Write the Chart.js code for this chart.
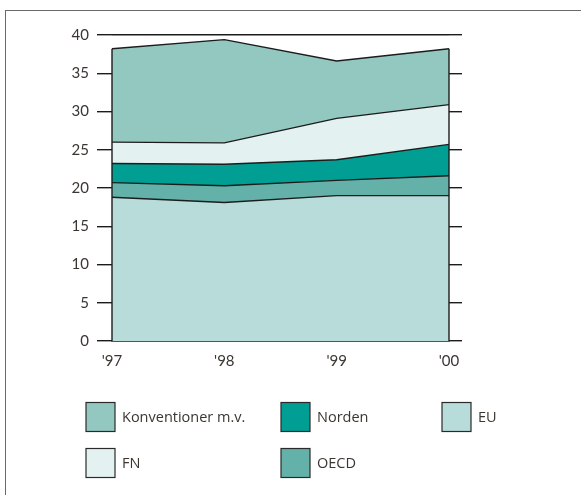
<!DOCTYPE html>
<html>
<head>
<meta charset="utf-8">
<script src="https://cdn.jsdelivr.net/npm/chart.js@4"></script>
<style>
  html, body { margin: 0; padding: 0; background: #fff; }
  #wrap { position: relative; width: 581px; height: 495px; overflow: hidden; }
  #frame { position: absolute; left: 5px; top: 10px; width: 700px; height: 700px;
           border-left: 1.5px solid #6b6a66; border-top: 1.5px solid #6b6a66; }
  canvas { position: absolute; left: 0; top: 0; }
</style>
</head>
<body>
<div id="wrap">
  <div id="frame"></div>
  <canvas id="chart" width="581" height="495"></canvas>
</div>
<script>
// data (stacked from the bottom up)
const years = ["'97", "'98", "'99", "'00"];
const eu = [18.8, 18.1, 19.0, 19.0];
const oecd = [1.9, 2.2, 2.0, 2.6];
const norden = [2.5, 2.8, 2.7, 4.1];
const fn = [2.8, 2.8, 5.4, 5.2];
const konventioner = [12.2, 13.5, 7.5, 7.3];
const yTicks = [0, 5, 10, 15, 20, 25, 30, 35, 40];

// legend reading order (3 columns)
const legendOrder = ['Konventioner m.v.', 'Norden', 'EU', 'FN', 'OECD'];

const ink = '#1c1c1c';
const textColor = '#3b3631';

function layer(label, data, color, fill) {
    return {
        label: label,
        data: data,
        backgroundColor: color,
        borderColor: ink,
        borderWidth: 1.4,
        pointRadius: 0,
        tension: 0,
        fill: fill
    };
}

// vertical edges of the stacked block + the legend
const extras = {
    id: 'extras',
    afterDatasetsDraw(chart) {
        const ctx = chart.ctx;
        const y = chart.scales.y;
        const topMeta = chart.getDatasetMeta(chart.data.datasets.length - 1);
        ctx.save();
        ctx.strokeStyle = ink;
        ctx.lineWidth = 1.4;
        [0, years.length - 1].forEach(i => {
            const p = topMeta.data[i];
            ctx.beginPath();
            ctx.moveTo(p.x, y.getPixelForValue(0));
            ctx.lineTo(p.x, p.y);
            ctx.stroke();
        });
        ctx.restore();
    },
    afterDraw(chart) {
        const ctx = chart.ctx;
        const cols = [86, 281, 442];
        const rows = [417, 463];
        const box = 29;
        ctx.save();
        ctx.font = '14.5px "Open Sans"';
        ctx.textBaseline = 'middle';
        legendOrder.forEach((name, k) => {
            const ds = chart.data.datasets.find(d => d.label === name);
            const x = cols[k % 3];
            const cy = rows[Math.floor(k / 3)];
            ctx.fillStyle = ds.backgroundColor;
            ctx.fillRect(x, cy - box / 2, box, box);
            ctx.strokeStyle = '#2a2a2a';
            ctx.lineWidth = 1.2;
            ctx.strokeRect(x, cy - box / 2, box, box);
            ctx.fillStyle = textColor;
            ctx.fillText(name, x + box + 7, cy + 1);
        });
        ctx.restore();
    }
};

new Chart(document.getElementById('chart').getContext('2d'), {
    type: 'line',
    data: {
        labels: years,
        datasets: [
            layer('EU', eu, '#b7dcd9', 'origin'),
            layer('OECD', oecd, '#63b1a9', '-1'),
            layer('Norden', norden, '#009e93', '-1'),
            layer('FN', fn, '#e3f1f0', '-1'),
            layer('Konventioner m.v.', konventioner, '#93c8c0', '-1')
        ]
    },
    options: {
        responsive: false,
        animation: false,
        layout: { padding: { left: 0, right: 119, top: 35, bottom: 124 } },
        plugins: {
            legend: { display: false },
            tooltip: { enabled: false }
        },
        scales: {
            x: {
                z: 1,
                offset: false,
                grid: { display: false },
                border: { display: true, color: ink, width: 1.4 },
                ticks: {
                    padding: 3,
                    color: textColor,
                    font: { family: 'Lato', size: 15 },
                    maxRotation: 0
                },
                afterFit: s => { s.height = 30; }
            },
            y: {
                stacked: true,
                min: 0,
                max: 40,
                afterBuildTicks: s => { s.ticks = yTicks.map(v => ({ value: v })); },
                grid: {
                    color: ink,
                    lineWidth: 1.4,
                    drawTicks: true,
                    tickLength: 15
                },
                border: { display: false },
                ticks: {
                    padding: 8,
                    color: textColor,
                    font: { family: 'Lato', size: 15 }
                },
                afterFit: s => { s.width = 112; }
            },
            y2: {
                position: 'right',
                min: 0,
                max: 40,
                afterBuildTicks: s => { s.ticks = yTicks.map(v => ({ value: v })); },
                grid: {
                    color: ink,
                    lineWidth: 1.4,
                    drawOnChartArea: false,
                    drawTicks: true,
                    tickLength: 13
                },
                border: { display: false },
                ticks: { display: false },
                afterFit: s => { s.width = 13; }
            }
        }
    },
    plugins: [extras]
});
</script>
</body>
</html>
